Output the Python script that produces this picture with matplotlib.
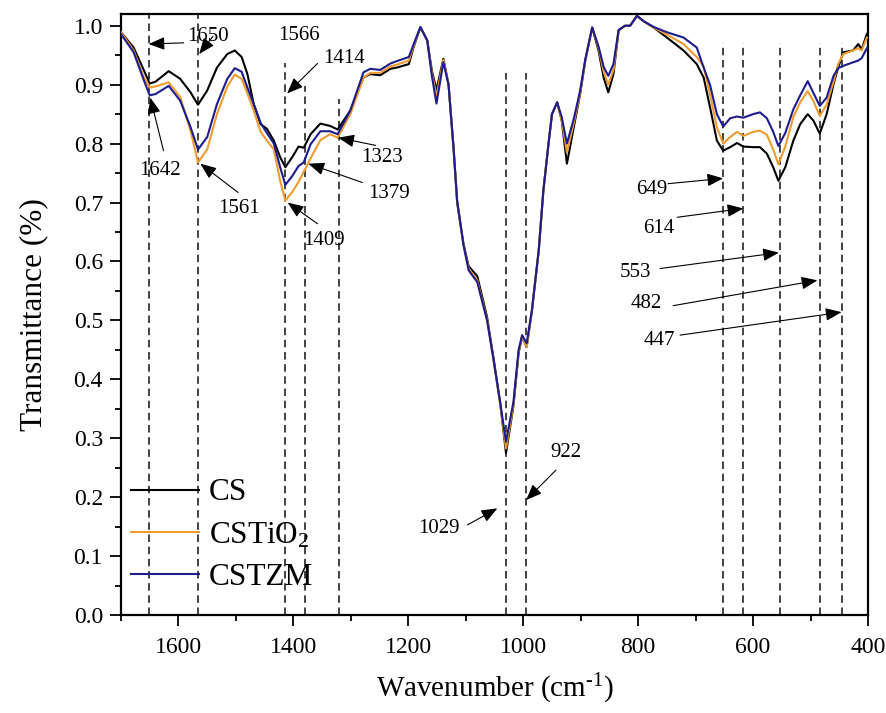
import matplotlib
matplotlib.use("Agg")
import matplotlib.pyplot as plt
from matplotlib.ticker import MultipleLocator

plt.rcParams['font.family'] = ['Liberation Serif', 'DejaVu Serif']
plt.rcParams['mathtext.fontset'] = 'custom'
plt.rcParams['mathtext.rm'] = 'Liberation Serif'
plt.rcParams['mathtext.it'] = 'Liberation Serif:italic'

wavenumber = [1700, 1678, 1660, 1650, 1640, 1617, 1597, 1579, 1566, 1550, 1533, 1515, 1502, 1490,
              1480, 1469, 1457, 1446, 1434, 1423, 1414, 1402, 1391, 1382, 1370, 1353, 1336, 1323,
              1301, 1278, 1266, 1249, 1231, 1220, 1199, 1191, 1179, 1167, 1159, 1151, 1139, 1130,
              1121, 1115, 1104, 1095, 1080, 1063, 1052, 1040, 1030, 1017, 1008, 1002, 994, 985,
              973, 965, 956, 950, 941, 933, 924, 912, 901, 892, 880, 869, 860, 852, 843, 834, 823,
              814, 802, 791, 773, 750, 721, 698, 686, 675, 663, 652, 640, 628, 617, 600, 588, 576,
              565, 556, 544, 530, 518, 505, 495, 484, 472, 460, 452, 443, 426, 417, 411, 402]

cs = [0.989, 0.963, 0.924, 0.902, 0.905, 0.923, 0.910, 0.887, 0.866, 0.890, 0.929, 0.952, 0.958, 0.947,
      0.918, 0.867, 0.833, 0.825, 0.805, 0.777, 0.760, 0.777, 0.795, 0.793, 0.816, 0.834, 0.830, 0.824,
      0.856, 0.912, 0.918, 0.916, 0.927, 0.929, 0.935, 0.963, 0.997, 0.975, 0.924, 0.891, 0.944, 0.901,
      0.790, 0.700, 0.630, 0.592, 0.575, 0.506, 0.438, 0.359, 0.275, 0.355, 0.445, 0.472, 0.455, 0.515,
      0.619, 0.720, 0.800, 0.850, 0.870, 0.839, 0.766, 0.828, 0.884, 0.941, 0.997, 0.958, 0.912, 0.887,
      0.918, 0.992, 1.000, 1.000, 1.017, 1.008, 0.997, 0.980, 0.958, 0.935, 0.912, 0.862, 0.805, 0.788,
      0.794, 0.801, 0.795, 0.794, 0.794, 0.783, 0.760, 0.737, 0.760, 0.805, 0.833, 0.850, 0.839, 0.817,
      0.850, 0.901, 0.929, 0.955, 0.958, 0.969, 0.960, 0.986]

cstio2 = [0.989, 0.958, 0.912, 0.895, 0.897, 0.904, 0.879, 0.822, 0.768, 0.790, 0.850, 0.897, 0.917, 0.910,
          0.885, 0.856, 0.820, 0.805, 0.790, 0.737, 0.703, 0.718, 0.735, 0.752, 0.775, 0.806, 0.816, 0.810,
          0.850, 0.912, 0.920, 0.920, 0.931, 0.934, 0.941, 0.965, 0.998, 0.975, 0.920, 0.880, 0.942, 0.901,
          0.788, 0.703, 0.628, 0.588, 0.568, 0.502, 0.435, 0.357, 0.283, 0.357, 0.447, 0.473, 0.455, 0.516,
          0.619, 0.720, 0.800, 0.850, 0.870, 0.840, 0.785, 0.835, 0.886, 0.942, 0.997, 0.962, 0.922, 0.900,
          0.925, 0.992, 1.000, 1.000, 1.017, 1.008, 0.997, 0.985, 0.969, 0.947, 0.930, 0.884, 0.828, 0.800,
          0.811, 0.820, 0.813, 0.820, 0.822, 0.815, 0.790, 0.765, 0.795, 0.845, 0.870, 0.889, 0.872, 0.847,
          0.866, 0.905, 0.935, 0.952, 0.958, 0.962, 0.958, 0.980]

cstzm = [0.986, 0.955, 0.907, 0.882, 0.884, 0.898, 0.873, 0.828, 0.790, 0.811, 0.867, 0.910, 0.928, 0.922,
         0.895, 0.867, 0.835, 0.818, 0.800, 0.760, 0.730, 0.745, 0.762, 0.768, 0.799, 0.821, 0.821, 0.816,
         0.856, 0.921, 0.927, 0.925, 0.936, 0.940, 0.947, 0.968, 0.998, 0.975, 0.915, 0.868, 0.938, 0.900,
         0.788, 0.703, 0.628, 0.585, 0.565, 0.500, 0.435, 0.360, 0.294, 0.362, 0.450, 0.475, 0.461, 0.517,
         0.619, 0.720, 0.800, 0.850, 0.870, 0.845, 0.800, 0.842, 0.890, 0.943, 0.997, 0.965, 0.930, 0.915,
         0.935, 0.993, 1.000, 1.000, 1.017, 1.008, 0.998, 0.989, 0.980, 0.963, 0.929, 0.900, 0.850, 0.829,
         0.843, 0.846, 0.844, 0.850, 0.853, 0.843, 0.820, 0.796, 0.818, 0.858, 0.882, 0.906, 0.886, 0.864,
         0.878, 0.915, 0.928, 0.932, 0.938, 0.941, 0.945, 0.962]

series_names = ['CS', 'CSTiO$_2$', 'CSTZM']
series_colors = ['#000000', '#EE9B30', '#1C1C8E']

# dashed reference lines: wavenumber position and top end (transmittance)
ref_lines = [1652, 1566, 1414, 1379, 1321, 1030, 995, 652, 617, 554, 483, 446]
ref_tops = [1.02, 1.02, 0.936, 0.898, 0.876, 0.919, 0.919, 0.971, 0.971, 0.971, 0.971, 0.971]

# peak labels: text, text position, arrow tail, arrow head
peak_labels = ['1650', '1566', '1414', '1642', '1561', '1409', '1379', '1323',
               '649', '614', '553', '482', '447', '1029', '922']
label_pos = [(1549, 0.981), (1390, 0.983), (1312, 0.944), (1633, 0.754), (1495, 0.690),
             (1346, 0.636), (1234, 0.715), (1246, 0.776), (777, 0.722), (764, 0.656),
             (804, 0.581), (786, 0.529), (763, 0.466), (1146, 0.147), (925, 0.275)]
arrow_tail = [(1591, 0.971), (1540, 0.982), (1358, 0.936), (1626, 0.788), (1496, 0.717),
              (1358, 0.664), (1280, 0.734), (1257, 0.797), (748, 0.732), (732, 0.675),
              (762, 0.588), (739, 0.525), (727, 0.475), (1097, 0.153), (943, 0.246)]
arrow_head = [(1652, 0.969), (1564, 0.952), (1411, 0.885), (1649, 0.878), (1562, 0.766),
              (1410, 0.700), (1374, 0.766), (1322, 0.810), (652, 0.741), (617, 0.690),
              (555, 0.615), (488, 0.568), (446, 0.514), (1045, 0.181), (995, 0.195)]

fig = plt.figure(figsize=(8.87, 7.13), dpi=100)
ax = fig.add_axes([0.1364, 0.1374, 0.8422, 0.8430])

for ys, name, col in zip([cs, cstio2, cstzm], series_names, series_colors):
    ax.plot(wavenumber, ys, color=col, lw=1.5, label=name, zorder=3)

for x0, top in zip(ref_lines, ref_tops):
    ax.plot([x0, x0], [0, top], color='#222222', lw=1.2, ls=(0, (4.5, 2.8)), zorder=2)

for txt, p, t, h in zip(peak_labels, label_pos, arrow_tail, arrow_head):
    ax.text(p[0], p[1], txt, fontsize=15, ha='center', va='center', zorder=5)
    ax.annotate('', xy=h, xytext=t,
                arrowprops=dict(arrowstyle='-|>,head_length=0.7,head_width=0.28',
                                color='black', lw=0.8, shrinkA=0, shrinkB=0,
                                mutation_scale=14), zorder=5)

ax.set_xlim(1700, 400)
ax.set_ylim(0, 1.02)
ax.xaxis.set_major_locator(MultipleLocator(200))
ax.xaxis.set_minor_locator(MultipleLocator(100))
ax.yaxis.set_major_locator(MultipleLocator(0.1))
ax.yaxis.set_minor_locator(MultipleLocator(0.05))
ax.yaxis.set_major_formatter(matplotlib.ticker.FormatStrFormatter('%.1f'))
ax.tick_params(axis='both', which='major', direction='out', length=8, width=1.3, labelsize=17)
ax.tick_params(axis='both', which='minor', direction='out', length=4.5, width=1.3)
ax.tick_params(axis='x', which='major', pad=8)
ax.tick_params(axis='y', which='major', pad=5)
for s in ax.spines.values():
    s.set_linewidth(1.6)

ax.set_xlabel(r'Wavenumber (cm$^{\mathregular{\text{-}1}}$)', fontsize=21, labelpad=10)
ax.set_ylabel('Transmittance (%)', fontsize=22.5, labelpad=18)

leg = ax.legend(loc='lower left', bbox_to_anchor=(-0.008, 0.012), frameon=False, fontsize=22.5,
                handlelength=2.2, handletextpad=0.3, labelspacing=0.42, borderaxespad=0.1)

fig.savefig('out.png', dpi=100)
